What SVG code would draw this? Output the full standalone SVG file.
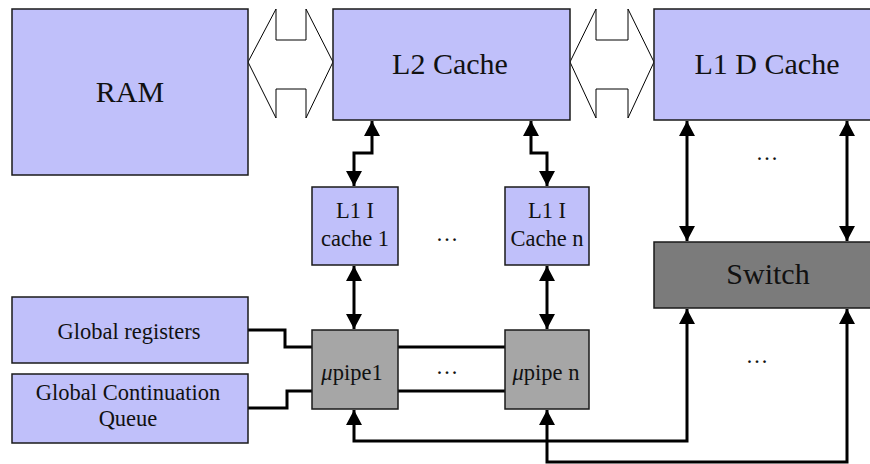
<svg xmlns="http://www.w3.org/2000/svg" width="870" height="464" viewBox="0 0 870 464">
<defs>
<style>
.box{fill:#c0c0fa;stroke:#1a1a1a;stroke-width:1.5}
.pipe{fill:#a6a6a6;stroke:#1a1a1a;stroke-width:1.5}
.sw{fill:#7b7b7b;stroke:#1a1a1a;stroke-width:1.5}
.bus{fill:#ffffff;stroke:#000;stroke-width:1}
.big{font-family:"Liberation Serif","Times New Roman",serif;font-size:30px;fill:#111;text-anchor:middle}
.sm{font-family:"Liberation Serif","Times New Roman",serif;font-size:22.5px;fill:#111;text-anchor:middle}
.ln{fill:none;stroke:#000;stroke-width:3}
.ar{fill:none;stroke:#000;stroke-width:3;marker-start:url(#ah);marker-end:url(#ah)}
</style>
<marker id="ah" markerUnits="userSpaceOnUse" markerWidth="15" markerHeight="16" refX="15" refY="8" orient="auto-start-reverse" viewBox="0 0 15 16">
<path d="M0,0 L15,8 L0,16 z" fill="#000"/>
</marker>
</defs>
<rect width="870" height="464" fill="#fff"/>

<g id="connectors">
<path class="bus" d="M248,62 L276,9 L276,40 L306,40 L306,9 L333,62 L306,118 L306,89 L276,89 L276,118 Z"/>
<path class="bus" d="M570,62 L596,9 L596,40 L628,40 L628,9 L654,62 L628,118 L628,89 L596,89 L596,118 Z"/>
<path class="ar" d="M372,121 L372,153 L354,153 L354,186"/>
<path class="ar" d="M531,121 L531,153 L547,153 L547,186"/>
<path class="ar" d="M354,266 L354,329"/>
<path class="ar" d="M547,266 L547,329"/>
<path class="ar" d="M687,121 L687,241"/>
<path class="ar" d="M847,121 L847,241"/>
<path class="ar" d="M354,410 L354,441 L687,441 L687,309"/>
<path class="ar" d="M547,410 L547,462 L847,462 L847,309"/>
<path class="ln" d="M248,330 L285,330 L285,347 L312,347"/>
<path class="ln" d="M248,408 L287,408 L287,391 L312,391"/>
<path class="ln" d="M398,347 L505,347"/>
<path class="ln" d="M398,391 L505,391"/>
</g>

<g id="ram"><rect class="box" x="12" y="9" width="236" height="166"/><text class="big" x="130" y="102">RAM</text></g>
<g id="l2"><rect class="box" x="333" y="9" width="237" height="111"/><text class="big" x="450" y="74">L2 Cache</text></g>
<g id="l1d"><rect class="box" x="654" y="9" width="222" height="111"/><text class="big" x="767" y="74">L1 D Cache</text></g>
<g id="l1i1"><rect class="box" x="312" y="187" width="86" height="78"/><text class="sm" x="355" y="218">L1 I</text><text class="sm" x="355" y="246">cache 1</text></g>
<g id="l1in"><rect class="box" x="505" y="187" width="84" height="78"/><text class="sm" x="547" y="218">L1 I</text><text class="sm" x="547" y="246">Cache n</text></g>
<g id="switch"><rect class="sw" x="654" y="242" width="222" height="66"/><text class="big" x="768" y="284">Switch</text></g>
<g id="greg"><rect class="box" x="12" y="297" width="236" height="66"/><text class="sm" x="129" y="339">Global registers</text></g>
<g id="gcq"><rect class="box" x="12" y="374" width="236" height="69"/><text class="sm" x="128" y="400">Global Continuation</text><text class="sm" x="128" y="426">Queue</text></g>
<g id="pipe1"><rect class="pipe" x="312" y="330" width="86" height="79"/><text class="sm" x="352" y="380"><tspan font-style="italic">μ</tspan>pipe1</text></g>
<g id="pipen"><rect class="pipe" x="505" y="330" width="84" height="79"/><text class="sm" x="546" y="380"><tspan font-style="italic">μ</tspan>pipe n</text></g>
<g id="dots">
<text class="sm" x="447" y="241">…</text>
<text class="sm" x="447" y="374">…</text>
<text class="sm" x="767" y="160">…</text>
<text class="sm" x="757" y="363">…</text>
</g>
</svg>
